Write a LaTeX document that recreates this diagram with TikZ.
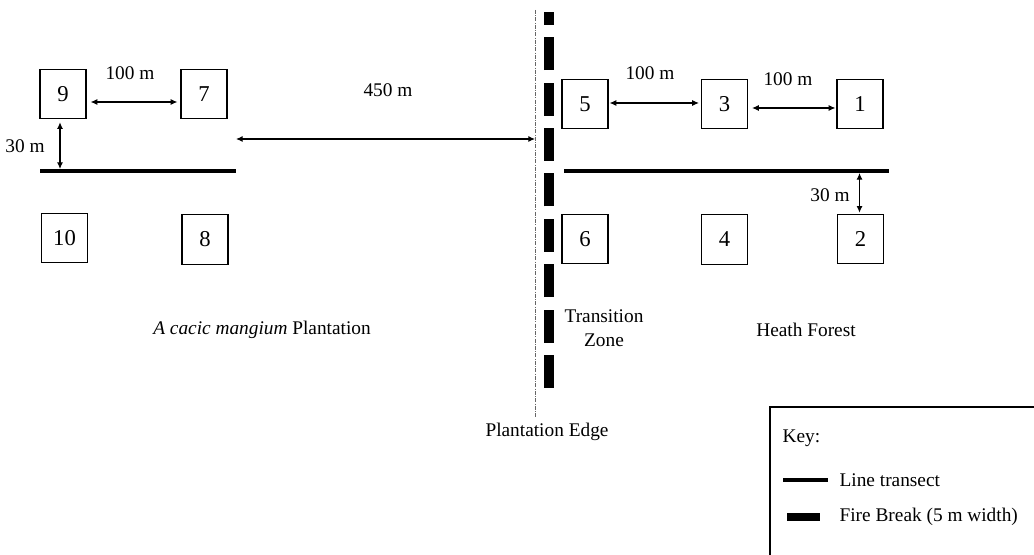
\documentclass[tikz,border=0pt]{standalone}
\usepackage{fontspec}
\setmainfont{Liberation Serif}
\usetikzlibrary{calc,positioning,arrows,arrows.meta}
\tikzset{>={Latex[length=5pt,width=4.5pt]}}
\tikzset{plot/.style={draw, line width=0.9pt, minimum width=34.5pt,
    minimum height=37pt, inner sep=0pt, font=\fontsize{17}{19}\selectfont}}
\tikzset{dist/.style={<->, line width=0.8pt}}
\tikzset{lbl/.style={inner sep=1pt, font=\fontsize{14.5}{18}\selectfont}}
\tikzset{transect/.style={line width=3pt}}
\tikzset{firebreak/.style={line width=7.5pt, dash pattern=on 24.75pt off 9.3pt}}
\begin{document}
\begin{tikzpicture}[x=0.75pt, y=-0.75pt]
  \clip (0,0) rectangle (1034,555);
  % sample plots
  \node[plot] (b9) at (63,94) {9};
  \node[plot] (b7) at (204,94) {7};
  \node[plot] (b10) at (64.5,238) {10};
  \node[plot] (b8) at (205,239.5) {8};
  \node[plot] (b5) at (585,104) {5};
  \node[plot] (b3) at (724.5,104) {3};
  \node[plot] (b1) at (860,104) {1};
  \node[plot] (b6) at (585,239) {6};
  \node[plot] (b4) at (724.5,239.5) {4};
  \node[plot] (b2) at (860.5,239) {2};
  % transects
  \coordinate (tl1) at (40,171);
  \coordinate (tl2) at (236,171);
  \coordinate (tr1) at (564,171);
  \coordinate (tr2) at (889,171);
  \draw[transect] (tl1) -- (tl2);
  \draw[transect] (tr1) -- (tr2);
  % plantation edge and fire break
  \coordinate (pe1) at (535,10);
  \coordinate (pe2) at (535,418);
  \draw[gray!80!black, line width=0.6pt, densely dash dot] (pe1) -- (pe2);
  \coordinate (fb1) at (549,388);
  \coordinate (fb2) at (549,12);
  \draw[firebreak] (fb1) -- (fb2);
  % distances
  \draw[dist] ($(b9.east)+(4,8)$) -- ($(b7.west)+(-3,8)$);
  \node[lbl] (d97) at (130,73) {100 m};
  \draw[dist] ($(b9.south)+(-3,3)$) -- ($(b9.south |- tl1)+(-3,-2)$);
  \node[lbl] (d9t) at (25,146) {30 m};
  \draw[dist] ($(tl2)+(0,-32)$) -- ($(tl2 -| pe1)+(0,-32)$);
  \node[lbl] (dpe) at (388,90) {450 m};
  \draw[dist] ($(b5.east)+(1,-1)$) -- ($(b3.west)+(-2,-1)$);
  \node[lbl] (d53) at (650,73) {100 m};
  \draw[dist] ($(b3.east)+(4,4)$) -- ($(b1.west)+(-1,4)$);
  \node[lbl] (d31) at (788,79) {100 m};
  \draw[dist] ($(b2.north |- tr1)+(-1,2)$) -- ($(b2.north)+(-1,-1)$);
  \node[lbl] (d2t) at (830,195) {30 m};
  % zones
  \node[lbl] (acacia) at (262,330) {\textit{A cacic mangium} Plantation};
  \node[lbl, align=center] (trans) at (604,328) {Transition\\Zone};
  \node[lbl] (heath) at (806,330) {Heath Forest};
  \node[lbl] (edge) at (547,432) {Plantation Edge};
  % key
  \draw[line width=0.9pt] (770,600) -- (770,407) -- (1100,407);
  \node[lbl, anchor=west] (key) at (781,438) {Key:};
  \coordinate (kl1) at (783,480);
  \coordinate (kl2) at (828,480);
  \draw[transect] (kl1) -- (kl2);
  \node[lbl, anchor=west] (keyline) at (838,480) {Line transect};
  \fill (787,513) rectangle (820,521);
  \node[lbl, anchor=west] (keyfb) at (838,517) {Fire Break (5 m width)};
\end{tikzpicture}
\end{document}
